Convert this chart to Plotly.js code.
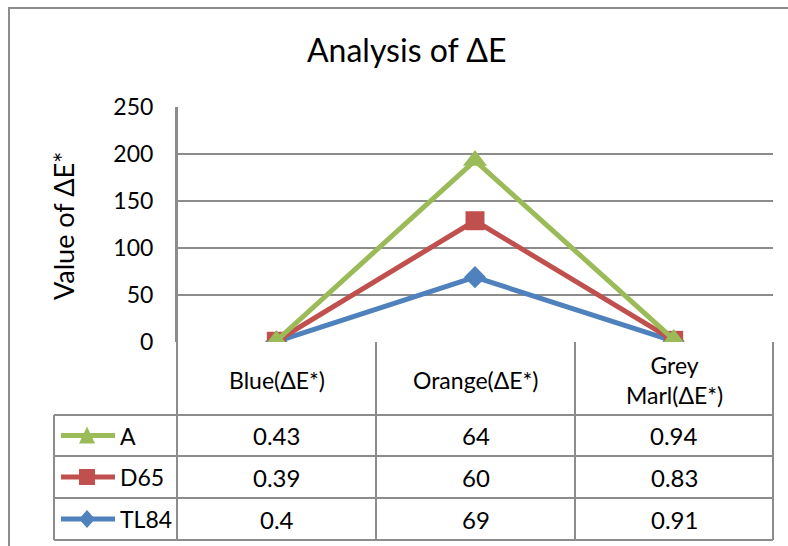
<!DOCTYPE html>
<html>
<head>
<meta charset="utf-8">
<script src="https://cdn.plot.ly/plotly-3.0.1.min.js"></script>
<style>html,body{margin:0;padding:0;background:#fff;}#chart{width:788px;height:546px;}</style>
</head>
<body>
<div id="chart"></div>
<script>
// ---- data ----
const categories = ['Blue(ΔE*)', 'Orange(ΔE*)', 'Grey<br>Marl(ΔE*)'];
const seriesNames = ['A', 'D65', 'TL84'];
const valuesA = [0.43, 64, 0.94];
const valuesD65 = [0.39, 60, 0.83];
const valuesTL84 = [0.4, 69, 0.91];
const tableLabels = [['0.43', '64', '0.94'], ['0.39', '60', '0.83'], ['0.4', '69', '0.91']];
const yTicks = [0, 50, 100, 150, 200, 250];

// ---- styling ----
const FONT = 'Lato, "Open Sans", sans-serif';
const GREEN = '#9BBB59', RED = '#C0504D', BLUE = '#4F81BD';
const GRID = '#8c8c8c';
const W = 788, H = 546;
const L = 177, R = 773, T = 107, B = 342;
const px = x => (x - L) / (R - L);
const py = y => (B - y) / (B - T);

// stacked line values (Excel stacked line chart)
const stackTL84 = valuesTL84.slice();
const stackD65 = valuesD65.map((v, i) => v + stackTL84[i]);
const stackA = valuesA.map((v, i) => v + stackD65[i]);
const xs = [0, 1, 2];

const traces = [
  {x: xs, y: stackTL84, name: 'TL84', type: 'scatter', mode: 'lines+markers',
   line: {color: BLUE, width: 5}, marker: {symbol: 'diamond', size: 17, color: BLUE}},
  {x: xs, y: stackD65, name: 'D65', type: 'scatter', mode: 'lines+markers',
   line: {color: RED, width: 5}, marker: {symbol: 'square', size: 19, color: RED}},
  {x: xs, y: stackA, name: 'A', type: 'scatter', mode: 'lines+markers',
   line: {color: GREEN, width: 5}, marker: {symbol: 'triangle-up', size: 21, color: GREEN}}
];

const shapes = [];
const annotations = [];
function hline(x0, x1, y, w) {
  shapes.push({type: 'line', xref: 'paper', yref: 'paper', x0: px(x0), x1: px(x1), y0: py(y), y1: py(y),
    line: {color: GRID, width: w || 2}, layer: 'above'});
}
function vline(x, y0, y1, w) {
  shapes.push({type: 'line', xref: 'paper', yref: 'paper', x0: px(x), x1: px(x), y0: py(y0), y1: py(y1),
    line: {color: GRID, width: w || 2}, layer: 'above'});
}
// outer chart border
shapes.push({type: 'path', xref: 'paper', yref: 'paper',
  path: `M ${px(9)},${py(560)} L ${px(9)},${py(8)} L ${px(800)},${py(8)}`,
  line: {color: GRID, width: 2}});

// data table grid
const colEdges = [L, 376, 575, R];
const rowEdges = [B, 415, 456, 498, 540];
vline(L, T, 540);
for (let i = 1; i < colEdges.length; i++) vline(colEdges[i], B, 540);
vline(54, 415, 540);
for (let j = 1; j < rowEdges.length; j++) hline(54, R, rowEdges[j]);

// header labels
const colCenters = [0, 1, 2].map(i => (colEdges[i] + colEdges[i + 1]) / 2);
categories.forEach((c, i) => {
  annotations.push({xref: 'paper', yref: 'paper', x: px(colCenters[i]), y: py(380), text: c,
    showarrow: false, font: {family: FONT, size: 23, color: '#000'}, xanchor: 'center', yanchor: 'middle'});
});
// value cells
const rowCenters = [0, 1, 2].map(j => (rowEdges[j + 1] + rowEdges[j + 2]) / 2);
tableLabels.forEach((row, j) => {
  row.forEach((t, i) => {
    annotations.push({xref: 'paper', yref: 'paper', x: px(colCenters[i]), y: py(rowCenters[j]), text: t,
      showarrow: false, font: {family: FONT, size: 24, color: '#000'}, xanchor: 'center', yanchor: 'middle'});
  });
});
// legend keys
const keyColors = [GREEN, RED, BLUE];
seriesNames.forEach((n, j) => {
  const yc = rowCenters[j];
  shapes.push({type: 'line', xref: 'paper', yref: 'paper', x0: px(61), x1: px(115), y0: py(yc), y1: py(yc),
    line: {color: keyColors[j], width: 5}});
  let p;
  if (j === 0) p = `M ${px(79)},${py(yc + 8)} L ${px(95)},${py(yc + 8)} L ${px(87)},${py(yc - 9)} Z`;
  else if (j === 1) p = `M ${px(79)},${py(yc + 8)} L ${px(95)},${py(yc + 8)} L ${px(95)},${py(yc - 8)} L ${px(79)},${py(yc - 8)} Z`;
  else p = `M ${px(87)},${py(yc + 9)} L ${px(95)},${py(yc)} L ${px(87)},${py(yc - 9)} L ${px(79)},${py(yc)} Z`;
  shapes.push({type: 'path', xref: 'paper', yref: 'paper', path: p,
    fillcolor: keyColors[j], line: {color: keyColors[j], width: 0}});
  annotations.push({xref: 'paper', yref: 'paper', x: px(118), y: py(yc), text: n, showarrow: false,
    font: {family: FONT, size: 23, color: '#000'}, xanchor: 'left', yanchor: 'middle'});
});

// title & y-axis title
annotations.push({xref: 'paper', yref: 'paper', x: px(407), y: py(50), text: 'Analysis of ΔE', showarrow: false,
  font: {family: FONT, size: 32, color: '#000'}, xanchor: 'center', yanchor: 'middle'});
annotations.push({xref: 'paper', yref: 'paper', x: px(63), y: py(226), text: 'Value of ΔE*', showarrow: false,
  textangle: -90, font: {family: FONT, size: 27, color: '#000'}, xanchor: 'center', yanchor: 'middle'});

const layout = {
  width: W, height: H,
  margin: {l: L, r: W - R, t: T, b: H - B, pad: 0},
  paper_bgcolor: '#fff', plot_bgcolor: '#fff',
  showlegend: false,
  xaxis: {type: 'linear', range: [-0.5, 2.5], showgrid: false, zeroline: false, showticklabels: false,
    showline: false, ticks: '', fixedrange: true},
  yaxis: {range: [0, 250], tickvals: yTicks, ticktext: yTicks.map(String), showgrid: true,
    gridcolor: GRID, gridwidth: 1.5, zeroline: false, showline: true, linecolor: GRID, linewidth: 2,
    ticks: '', ticklen: 0, tickfont: {family: FONT, size: 23, color: '#000'}, ticklabelstandoff: 17,
    fixedrange: true},
  shapes: shapes,
  annotations: annotations
};

Plotly.newPlot('chart', traces, layout, {staticPlot: true, displayModeBar: false});
</script>
</body>
</html>
